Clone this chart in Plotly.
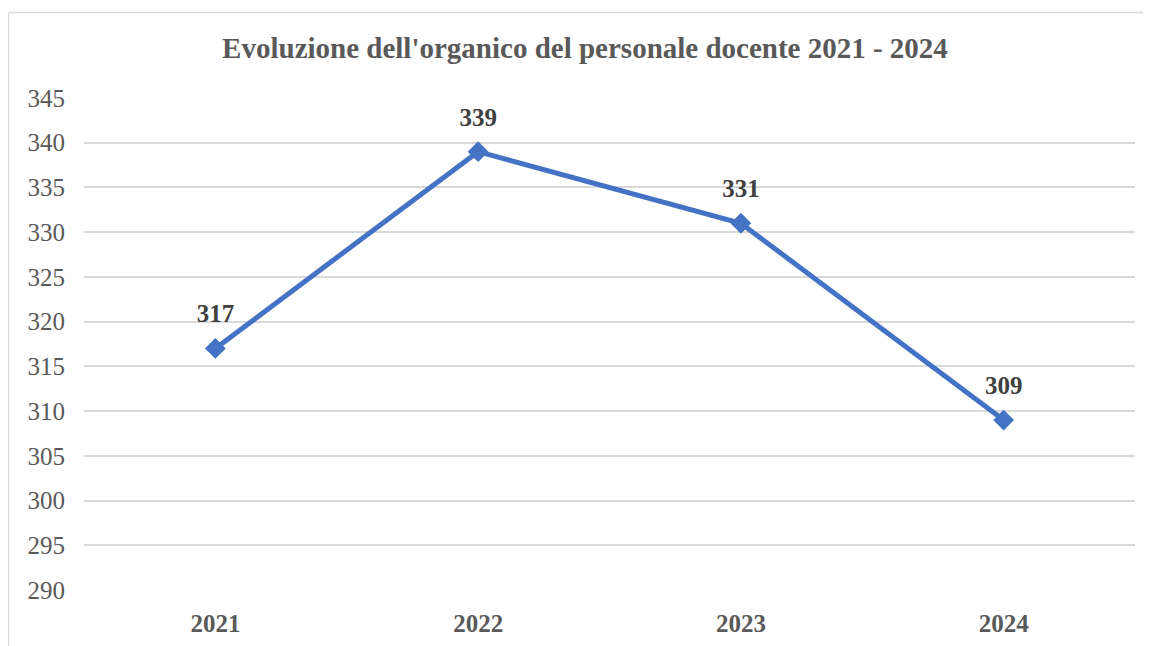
import plotly.graph_objects as go

years = ["2021", "2022", "2023", "2024"]
docenti = [317, 339, 331, 309]
y_ticks = [290, 295, 300, 305, 310, 315, 320, 325, 330, 335, 340, 345]
title_text = "Evoluzione dell'organico del personale docente 2021 - 2024"

SERIF = "Liberation Serif, Times New Roman, serif"
BLUE = "#4472C4"
GRID = "#d9d9d9"

fig = go.Figure()
fig.add_trace(go.Scatter(
    x=years, y=docenti, mode="lines+markers",
    line=dict(color=BLUE, width=5),
    marker=dict(symbol="diamond", size=16, color=BLUE),
    hoverinfo="x+y", showlegend=False,
))
# data labels (placed above the points via an invisible spacer marker)
fig.add_trace(go.Scatter(
    x=years, y=docenti, mode="markers+text",
    text=[f"<b>{v}</b>" for v in docenti], textposition="top center",
    textfont=dict(family=SERIF, size=25, color="#404040"),
    marker=dict(size=30, color="rgba(0,0,0,0)"),
    hoverinfo="skip", showlegend=False, cliponaxis=False,
))

# page offset of the figure is 8px; coordinates below are figure pixels
L, R, T, B = 76, 1127, 90, 582
W, H = 1151, 646
def px2x(px): return (px - L) / (R - L)
def py2y(py): return (B - py) / (B - T)
fig.add_shape(type="line", xref="paper", yref="paper",
              x0=px2x(0.5), x1=px2x(1160), y0=py2y(4.5), y1=py2y(4.5),
              line=dict(color=GRID, width=1.5))
fig.add_shape(type="line", xref="paper", yref="paper",
              x0=px2x(0.5), x1=px2x(0.5), y0=py2y(4.5), y1=py2y(660),
              line=dict(color=GRID, width=1.5))

fig.update_layout(
    width=W, height=H,
    margin=dict(l=L, r=W - R, t=T, b=H - B),
    paper_bgcolor="white", plot_bgcolor="white",
    title=dict(text=f"<b>{title_text}</b>", x=577 / W, xanchor="center",
               y=1 - 40 / H, yanchor="middle",
               font=dict(family=SERIF, size=29, color="#595959")),
    xaxis=dict(type="category", range=[-0.5, 3.5], showgrid=False, showline=False,
               zeroline=False, ticks="",
               tickfont=dict(family=SERIF, size=25, color="#595959"),
               tickvals=years, ticktext=[f"<b>{y}</b>" for y in years],
               ticklabelstandoff=16),
    yaxis=dict(range=[290, 345], tickvals=y_ticks, showgrid=True, gridcolor=GRID,
               gridwidth=1.5, showline=False, zeroline=False, ticks="",
               tickfont=dict(family=SERIF, size=25, color="#595959"),
               ticklabelstandoff=18),
)

fig.write_html("out.html")
